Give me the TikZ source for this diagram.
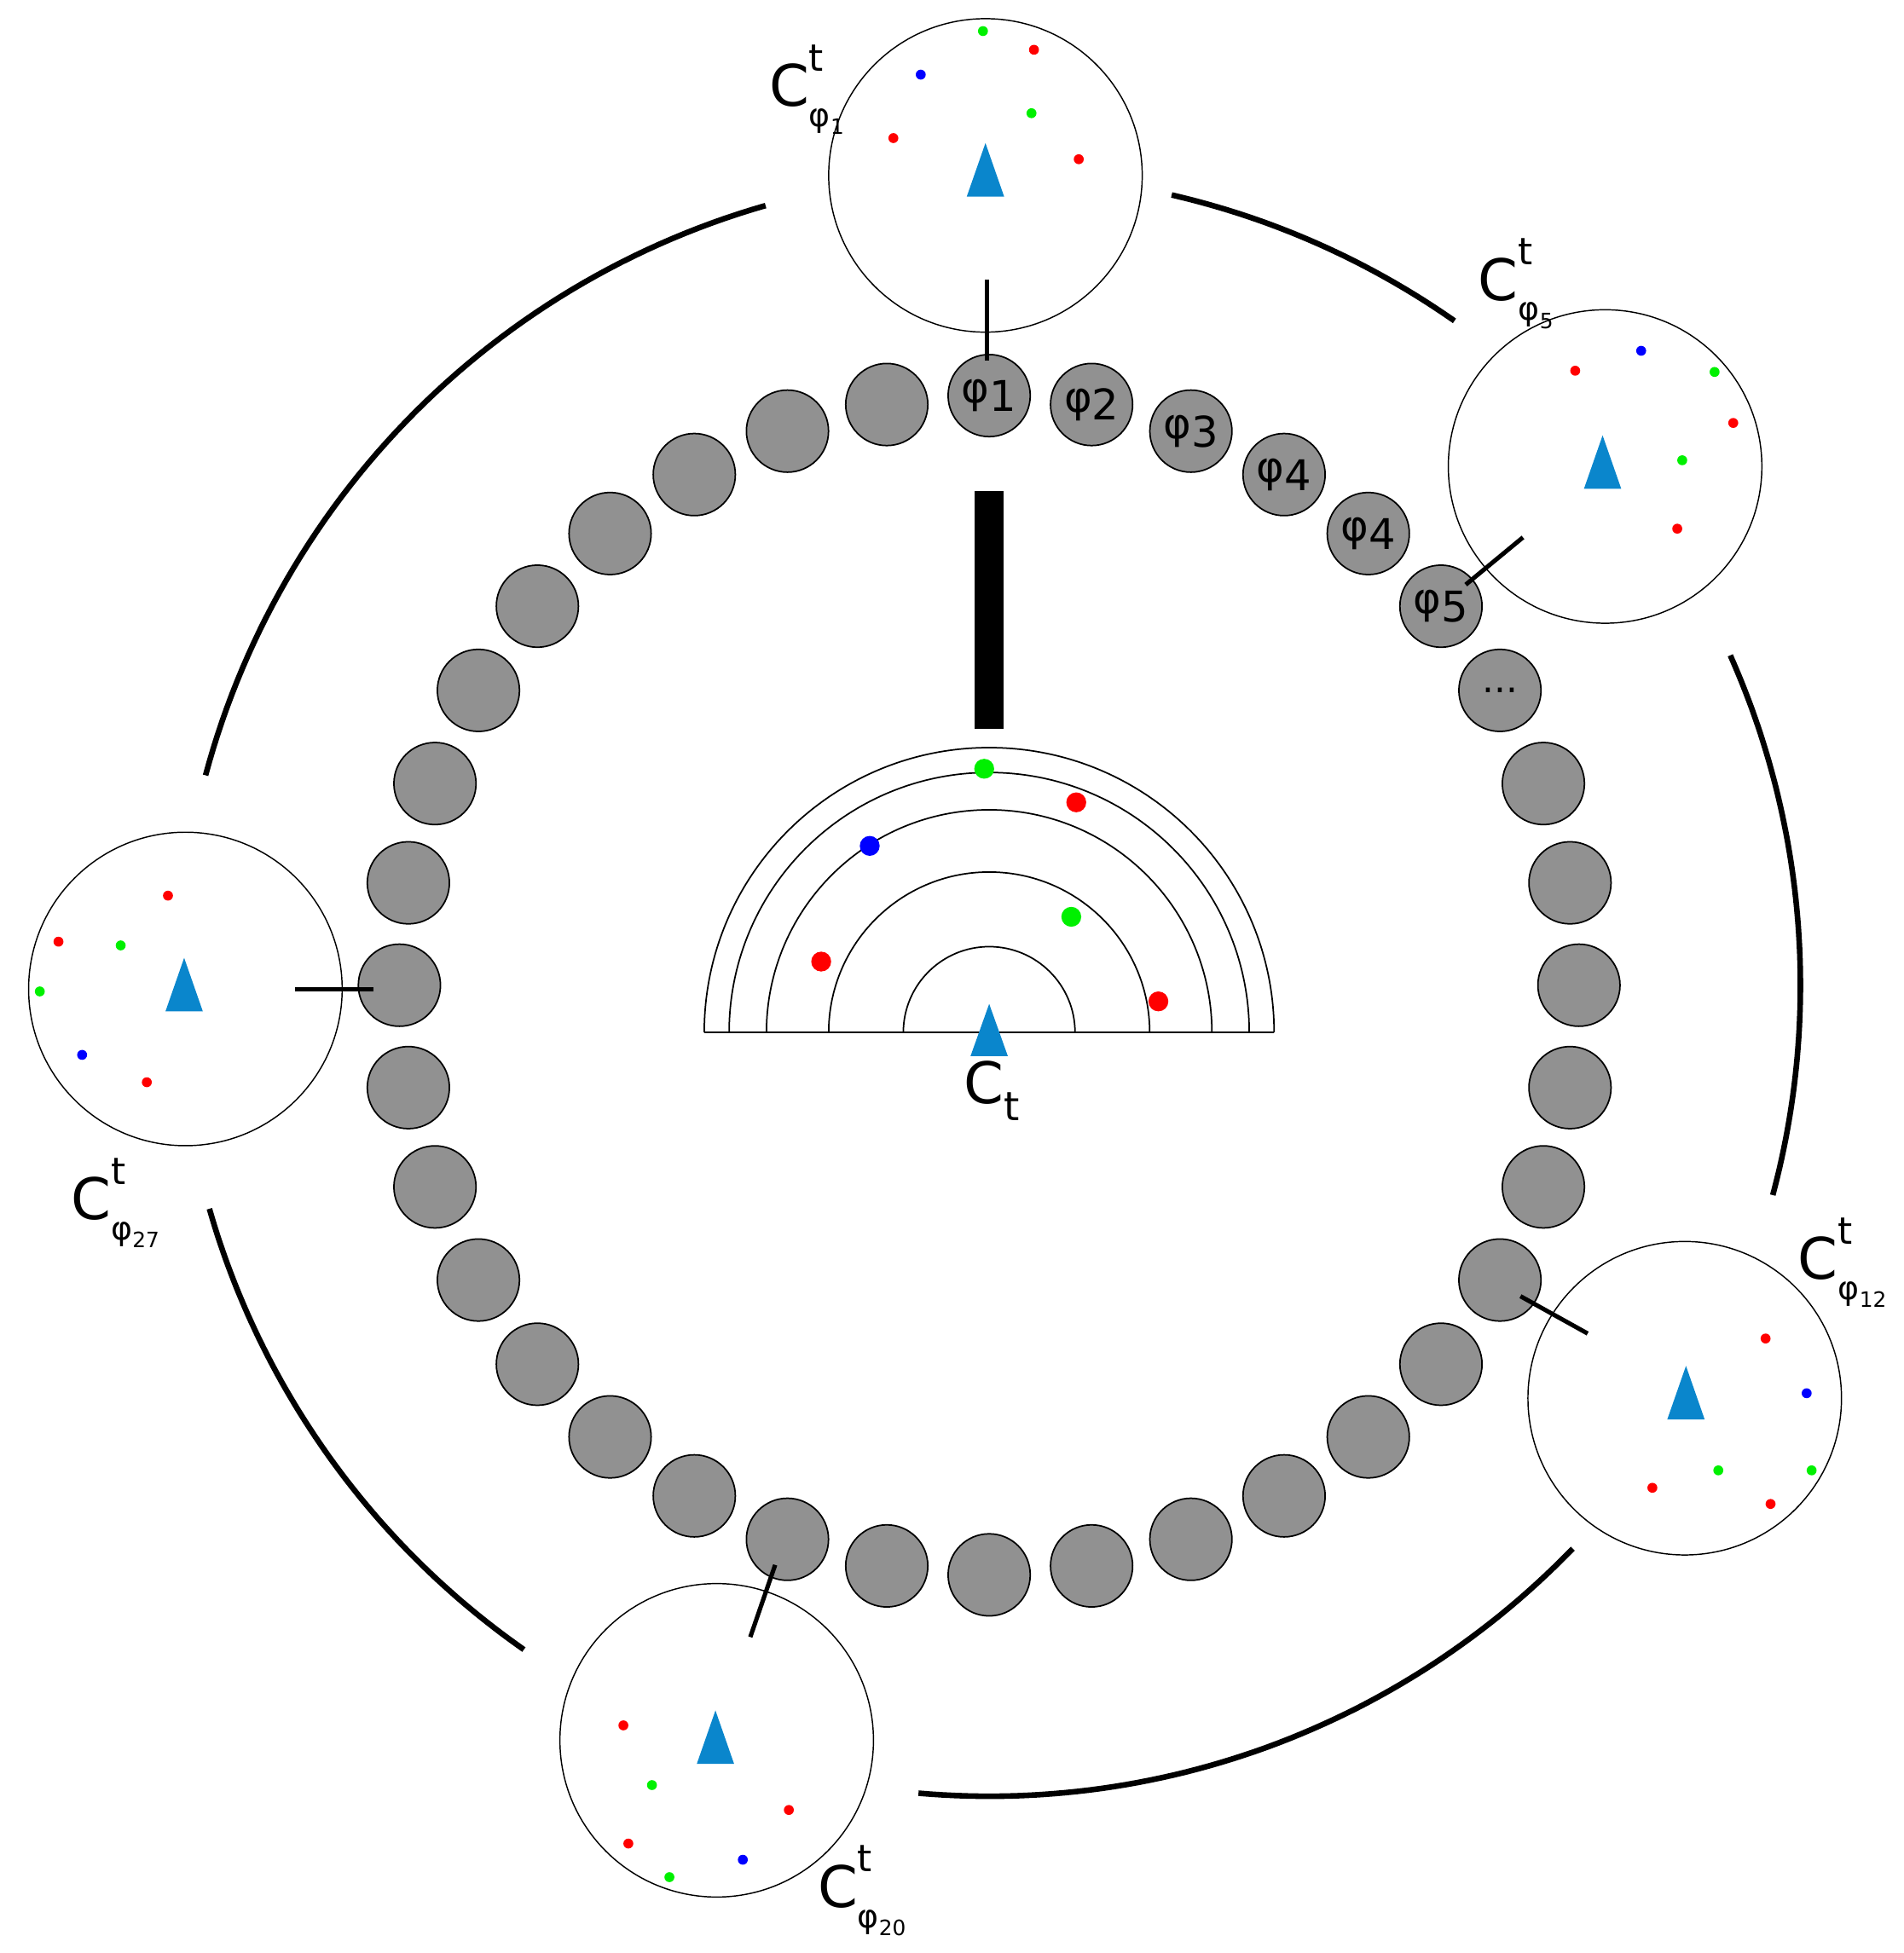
\documentclass[tikz,border=0pt]{standalone}
\usepackage{fontspec}
\setmainfont{DejaVu Sans}
\newcommand{\clab}[1]{C\rlap{\raisebox{0.62em}{\fontsize{30}{30}\selectfont t}}\raisebox{-0.35em}{\fontsize{26}{26}\selectfont φ\raisebox{-0.25em}{\fontsize{17}{17}\selectfont #1}}}
\newcommand{\tri}[2]{\fill[triblue] (#1-15,#2+21) -- (#1,#2-22) -- (#1+15,#2+21) -- cycle;}
\begin{document}
\begin{tikzpicture}[x=1pt,y=-1pt]
\definecolor{triblue}{HTML}{0A86CC}
\definecolor{gfill}{HTML}{919191}
\definecolor{dr}{HTML}{FF0000}
\definecolor{dg}{HTML}{00F000}
\definecolor{db}{HTML}{0000FF}
\tikzset{bead/.style={circle,draw=black,line width=1.2pt,fill=gfill,minimum size=66pt,inner sep=0pt,font=\fontsize{34}{34}\selectfont},
 big/.style={circle,draw=black,line width=1pt,minimum size=252pt,inner sep=0pt},
 arc/.style={line width=4.5pt},
 stick/.style={line width=3.5pt},
 lab/.style={font=\fontsize{46}{46}\selectfont,inner sep=0pt},
 sd/.style={radius=4pt},
 bd/.style={radius=8pt}}
\useasboundingbox (0,0) rectangle (1530,1570);
% outer arcs
\draw[arc] plot[domain=-16:-75,samples=60] ({795+652*sin(\x)},{792-652*cos(\x)});
\draw[arc] plot[domain=13:35,samples=40] ({795+652*sin(\x)},{792-652*cos(\x)});
\draw[arc] plot[domain=66:105,samples=60] ({795+652*sin(\x)},{792-652*cos(\x)});
\draw[arc] plot[domain=134:185,samples=60] ({795+652*sin(\x)},{792-652*cos(\x)});
\draw[arc] plot[domain=215:254,samples=60] ({795+652*sin(\x)},{792-652*cos(\x)});
% beads
\foreach \i in {1,...,36} {
  \pgfmathsetmacro{\a}{(\i-1)*10}
  \node[bead] (g\i) at ({795+474*sin(\a)},{792-474*cos(\a)}) {};
}
\node at (g1) [font=\fontsize{34}{34}\selectfont] {φ\raisebox{-0.2em}{1}};
\node at (g2) [font=\fontsize{34}{34}\selectfont] {φ\raisebox{-0.2em}{2}};
\node at (g3) [font=\fontsize{34}{34}\selectfont] {φ\raisebox{-0.2em}{3}};
\node at (g4) [font=\fontsize{34}{34}\selectfont] {φ\raisebox{-0.2em}{4}};
\node at (g5) [font=\fontsize{34}{34}\selectfont] {φ\raisebox{-0.2em}{4}};
\node at (g6) [font=\fontsize{34}{34}\selectfont] {φ\raisebox{-0.2em}{5}};
\node at (g7) [font=\fontsize{30}{30}\selectfont] {...};
% big circles
\node[big] (c1) at (792,141) {};
\node[big] (c2) at (1290,375) {};
\node[big] (c3) at (149,795) {};
\node[big] (c4) at (1354,1124) {};
\node[big] (c5) at (576,1399) {};
% sticks
\coordinate (s1a) at (793,225); \coordinate (s1b) at (793,290);
\coordinate (s2a) at (1224,432); \coordinate (s2b) at (1178,470);
\coordinate (s3a) at (237,795); \coordinate (s3b) at (300,795);
\coordinate (s4a) at (1222,1042); \coordinate (s4b) at (1276,1072);
\coordinate (s5a) at (623,1258); \coordinate (s5b) at (603,1316);
\draw[stick] (s1a) -- (s1b);
\draw[stick] (s2a) -- (s2b);
\draw[stick] (s3a) -- (s3b);
\draw[stick] (s4a) -- (s4b);
\draw[stick] (s5a) -- (s5b);
\coordinate (ba) at (795,395); \coordinate (bb) at (795,586);
\draw[line width=23pt] (ba) -- (bb);
% fan
\foreach \r in {229,209,179,129,69}
  \draw[line width=1.2pt] (795-\r,830) arc[start angle=180,end angle=0,x radius=\r,y radius=-\r];
\draw[line width=1.2pt] (566,830) -- (1024,830);
\fill[triblue] (780,849) -- (795,807) -- (810,849) -- cycle;
\node[lab] (ct) at (797,877) {C\raisebox{-0.3em}{\fontsize{32}{32}\selectfont t}};
\fill[dg] (791,618) circle[bd]; \fill[dr] (865,645) circle[bd];
\fill[db] (699,680) circle[bd]; \fill[dg] (861,737) circle[bd];
\fill[dr] (660,773) circle[bd]; \fill[dr] (931,805) circle[bd];
% triangles in big circles
\tri{792}{137} \tri{1288}{372} \tri{148}{792} \tri{1355}{1120} \tri{575}{1397}
% small dots
\fill[dg] (790,25) circle[sd]; \fill[dr] (831,40) circle[sd]; \fill[db] (740,60) circle[sd];
\fill[dg] (829,91) circle[sd]; \fill[dr] (718,111) circle[sd]; \fill[dr] (867,128) circle[sd];
\fill[dr] (1266,298) circle[sd]; \fill[db] (1319,282) circle[sd]; \fill[dg] (1378,299) circle[sd];
\fill[dr] (1393,340) circle[sd]; \fill[dg] (1352,370) circle[sd]; \fill[dr] (1348,425) circle[sd];
\fill[dr] (135,720) circle[sd]; \fill[dr] (47,757) circle[sd]; \fill[dg] (97,760) circle[sd];
\fill[dg] (32,797) circle[sd]; \fill[db] (66,848) circle[sd]; \fill[dr] (118,870) circle[sd];
\fill[dr] (1419,1076) circle[sd]; \fill[db] (1452,1120) circle[sd]; \fill[dg] (1456,1182) circle[sd];
\fill[dr] (1423,1209) circle[sd]; \fill[dg] (1381,1182) circle[sd]; \fill[dr] (1328,1196) circle[sd];
\fill[dr] (501,1387) circle[sd]; \fill[dg] (524,1435) circle[sd]; \fill[dr] (634,1455) circle[sd];
\fill[dr] (505,1482) circle[sd]; \fill[dg] (538,1509) circle[sd]; \fill[db] (597,1495) circle[sd];
% labels
\node[lab,anchor=west] (l1) at (618,72) {\clab{1}};
\node[lab,anchor=west] (l2) at (1188,228) {\clab{5}};
\node[lab,anchor=west] (l3) at (57,967) {\clab{27}};
\node[lab,anchor=west] (l4) at (1445,1015) {\clab{12}};
\node[lab,anchor=west] (l5) at (657,1520) {\clab{20}};
\end{tikzpicture}
\end{document}
